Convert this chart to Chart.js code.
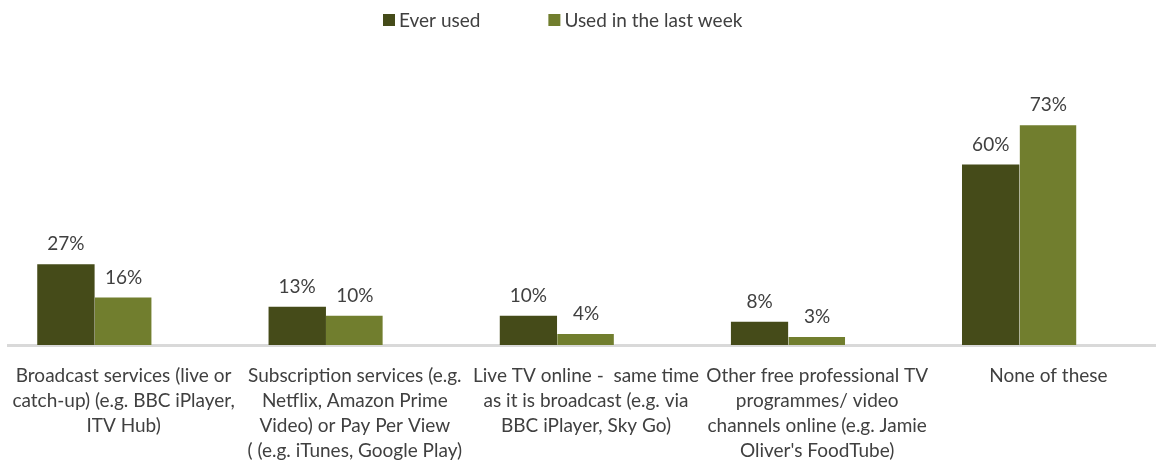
<!DOCTYPE html>
<html>
<head>
<meta charset="utf-8">
<script src="https://cdn.jsdelivr.net/npm/chart.js@4.4.1/dist/chart.umd.min.js"></script>
<style>
  html, body { margin: 0; padding: 0; background: #ffffff; overflow: hidden; }
  #wrap { width: 1166px; height: 462px; }
</style>
</head>
<body>
<div id="wrap"><canvas id="chart" width="1166" height="462"></canvas></div>
<script>
// Online TV service usage, share of respondents (%)
const categories = [
  ["Broadcast services (live or", "catch-up) (e.g. BBC iPlayer,", "ITV Hub)"],
  ["Subscription services (e.g.", "Netflix, Amazon Prime", "Video) or Pay Per View", "( (e.g. iTunes, Google Play)"],
  ["Live TV online -  same time", "as it is broadcast (e.g. via", "BBC iPlayer, Sky Go)"],
  ["Other free professional TV", "programmes/ video", "channels online (e.g. Jamie", "Oliver's FoodTube)"],
  ["None of these"]
];
const seriesNames = ["Ever used", "Used in the last week"];
const everUsed = [27, 13, 10, 8, 60];
const lastWeek = [16, 10, 4, 3, 73];
const seriesColors = ["#454b19", "#717e2e"];

const FONT = "Lato";
const TEXT = "#404040";

// Value labels above each visible bar
const valueLabels = {
  id: "valueLabels",
  afterDatasetsDraw(chart) {
    const ctx = chart.ctx;
    ctx.save();
    ctx.font = "19px " + FONT;
    ctx.fillStyle = TEXT;
    ctx.textAlign = "center";
    ctx.textBaseline = "alphabetic";
    chart.data.datasets.forEach((ds, di) => {
      if (!ds.showLabels) return;
      chart.getDatasetMeta(di).data.forEach((bar, i) => {
        const v = ds.data[i];
        if (v == null) return;
        ctx.fillText(v + "%", bar.x, bar.y - 13);
      });
    });
    ctx.restore();
  }
};

// Legend row across the top
const topLegend = {
  id: "topLegend",
  afterDraw(chart) {
    const ctx = chart.ctx;
    ctx.save();
    ctx.font = "19px " + FONT;
    ctx.textBaseline = "middle";
    ctx.textAlign = "left";
    let x = 383;
    const y = 20;
    const box = 12, gapText = 4, gapItem = 68;
    seriesNames.forEach((name, i) => {
      ctx.fillStyle = seriesColors[i];
      ctx.fillRect(x, y - box / 2, box, box);
      ctx.fillStyle = TEXT;
      ctx.fillText(name, x + box + gapText, y + 1);
      x += box + gapText + ctx.measureText(name).width + gapItem;
    });
    ctx.restore();
  }
};

new Chart(document.getElementById("chart"), {
  type: "bar",
  data: {
    labels: categories,
    datasets: [
      { label: seriesNames[0], data: everUsed, backgroundColor: seriesColors[0],
        borderColor: "rgba(255,255,255,0.25)", borderWidth: { top: 1, left: 0, right: 0, bottom: 0 }, showLabels: true },
      { label: seriesNames[1], data: lastWeek, backgroundColor: seriesColors[1],
        borderColor: "rgba(255,255,255,0.25)", borderWidth: { top: 1, left: 0, right: 1, bottom: 0 }, showLabels: true },
      // empty third slot in each group
      { label: "", data: everUsed.map(() => null), backgroundColor: "rgba(0,0,0,0)", showLabels: false }
    ]
  },
  options: {
    responsive: false,
    animation: false,
    layout: { padding: { top: 103, left: 8, right: 2, bottom: 0 } },
    datasets: { bar: { categoryPercentage: 0.748, barPercentage: 1.0 } },
    plugins: { legend: { display: false }, tooltip: { enabled: false } },
    scales: {
      y: { display: false, min: 0, max: 80 },
      x: {
        grid: { display: false, drawTicks: false },
        border: { display: true, color: "#d9d9d9", width: 3 },
        ticks: {
          color: TEXT,
          font: { family: FONT, size: 19, lineHeight: 1.32 },
          padding: 18,
          maxRotation: 0,
          minRotation: 0,
          autoSkip: false
        },
        afterFit(scale) {
          scale.height = 117;
          scale.paddingLeft = 0;
          scale.paddingRight = 0;
        }
      }
    }
  },
  plugins: [valueLabels, topLegend]
});
</script>
</body>
</html>
